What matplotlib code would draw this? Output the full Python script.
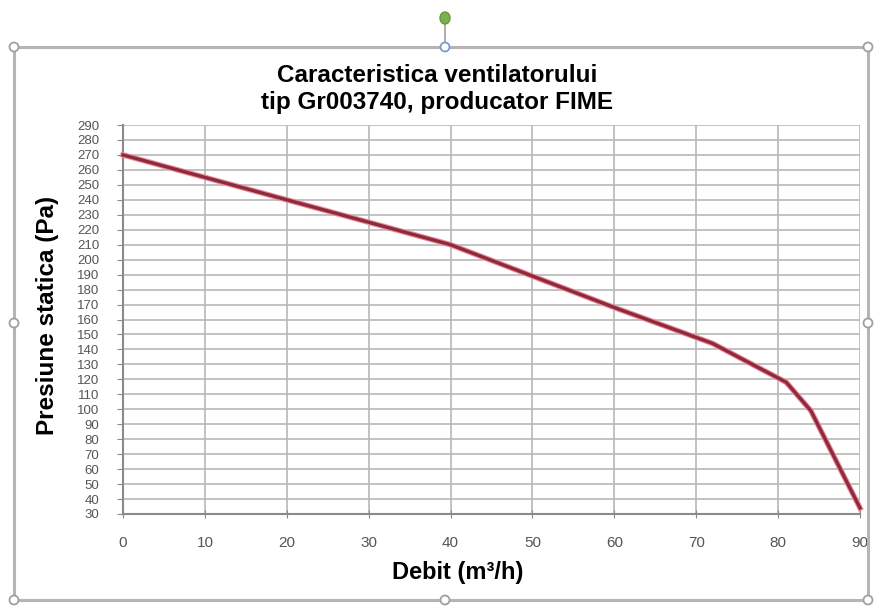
import matplotlib
matplotlib.use("Agg")
import matplotlib.pyplot as plt
from matplotlib.patches import Rectangle, Ellipse
from matplotlib.lines import Line2D
import matplotlib.patheffects as pe
import numpy as np

plt.rcParams['font.family'] = ['Liberation Sans', 'DejaVu Sans']

title = "Caracteristica ventilatorului\ntip Gr003740, producator FIME"
xlabel = "Debit (m³/h)"
ylabel = "Presiune statica (Pa)"

debit = [0, 10, 20, 30, 40, 50, 60, 70, 72, 81, 84, 90]
presiune = [270, 255, 240, 225, 210, 189, 168, 148, 144, 118, 99, 34]

x_ticks = list(range(0, 91, 10))
y_ticks = list(range(30, 291, 10))

W, H = 875, 606
fig = plt.figure(figsize=(W / 100, H / 100), dpi=100)
fig.patch.set_facecolor('white')

ax = fig.add_axes([123 / W, 1 - 514 / H, (860 - 123) / W, (514 - 125) / H])
ax.set_xlim(0, 90)
ax.set_ylim(30, 290)
ax.set_xticks(x_ticks)
ax.set_yticks(y_ticks)
ax.set_xticklabels([str(v) for v in x_ticks], fontsize=11, color='#555555')
ax.set_yticklabels([str(v) for v in y_ticks], fontsize=9.5, color='#555555')
ax.grid(True, color='#b8b8b8', linewidth=1.2)
ax.set_axisbelow(True)
for s in ['top', 'right']:
    ax.spines[s].set_visible(False)
for s in ['left', 'bottom']:
    ax.spines[s].set_color('#8a8a8a')
    ax.spines[s].set_linewidth(1.5)
ax.tick_params(axis='y', direction='out', length=4, color='#8a8a8a', pad=13)
ax.tick_params(axis='x', direction='inout', length=6, color='#8a8a8a', pad=13)

ax.plot(debit, presiune, color='#8e2a3c', linewidth=2.4, solid_joinstyle='round',
        path_effects=[pe.Stroke(linewidth=4, foreground='#e88a9a'), pe.Normal()],
        clip_on=False, zorder=5)

fig.text(437 / W, 1 - 89 / H, title, ha='center', va='center', fontsize=17.5,
         fontweight='bold', linespacing=1.2)
fig.text(458 / W, 1 - 572 / H, xlabel, ha='center', va='center', fontsize=17,
         fontweight='bold')
fig.text(48 / W, 1 - 315 / H, ylabel, ha='center', va='center', fontsize=17.5,
         fontweight='bold', rotation=90)

# chart-frame decorations (selection border and handles)
fig.patches.append(Rectangle((14 / W, 1 - 600 / H), (868 - 14) / W, (600 - 47) / H,
                             transform=fig.transFigure, fill=False,
                             edgecolor='#b5b5b5', linewidth=2.2, zorder=0))
fig.lines.append(Line2D([445 / W, 445 / W], [1 - 47 / H, 1 - 18 / H],
                        transform=fig.transFigure, color='#a0a0a0', linewidth=1.2))
handles = [(14, 47), (445, 47), (868, 47), (14, 323), (868, 323),
           (14, 600), (445, 600), (868, 600)]
for hx, hy in handles:
    ec = '#7a9ccc' if (hx, hy) == (445, 47) else '#a0a0a0'
    fig.patches.append(Ellipse((hx / W, 1 - hy / H), 9 / W, 9 / H,
                               transform=fig.transFigure, facecolor='white',
                               edgecolor=ec, linewidth=1.3, zorder=3))
fig.patches.append(Ellipse((445 / W, 1 - 18 / H), 10 / W, 12 / H,
                           transform=fig.transFigure, facecolor='#7ab050',
                           edgecolor='#5f9a3a', linewidth=1, zorder=3))

fig.savefig('out.png', dpi=100, facecolor='white')
